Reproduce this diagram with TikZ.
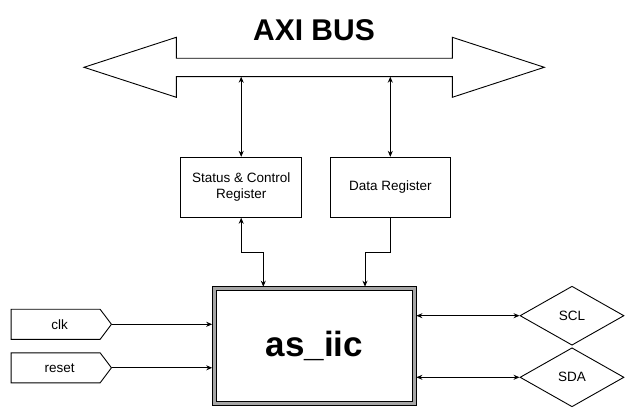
\documentclass[tikz,border=0pt]{standalone}
\usepackage{fontspec}
\setmainfont{Liberation Sans}
\usetikzlibrary{shapes.geometric,shapes.symbols,arrows.meta}
\begin{document}
\begin{tikzpicture}[x=1pt,y=-1pt,line width=0.9pt,
  >={Stealth[length=6pt,width=5pt]},
  lbl/.style={font=\fontsize{13.5}{16}\selectfont},
  regbox/.style={draw,minimum height=60pt,inner sep=0pt,align=center,lbl},
  sigbox/.style={draw,signal,signal to=east,signal pointer angle=106,minimum width=100.3pt,minimum height=30pt,inner sep=0pt,anchor=west,lbl},
  pinbox/.style={draw,diamond,minimum width=104pt,minimum height=59pt,inner sep=0pt,lbl}]
\useasboundingbox (0,0) rectangle (634,419);
% bus
\draw (84,67.3) -- (176.3,37.3) -- (176.3,58.3) -- (452.3,58.3) -- (452.3,37.3)
  -- (544.3,67.3) -- (452.3,97.3) -- (452.3,76.7) -- (176.3,76.7) -- (176.3,97.3) -- cycle;
\coordinate (busA) at (241.2,76.7);
\coordinate (busB) at (390.3,76.7);
\node[font=\bfseries\fontsize{30}{34}\selectfont] (title) at (314,29.7) {AXI BUS};
% registers
\node[regbox,minimum width=121pt] (status) at (241.2,187.3) {Status \& Control\\Register};
\node[regbox,minimum width=119.3pt] (data) at (390.3,187.3) {Data Register};
% main block
\node[draw,fill=gray!70,minimum width=203.3pt,minimum height=119pt,inner sep=0pt] (main) at (314.3,346.2) {};
\node[draw,fill=white,minimum width=195.6pt,minimum height=111.3pt,inner sep=0pt,font=\bfseries\fontsize{35}{40}\selectfont] (core) at (main.center) {as\_iic};
% inputs
\node[sigbox] (clk) at (10.7,324.3) {\hspace{8pt}clk};
\node[sigbox] (reset) at (10.7,367.8) {\hspace{8pt}reset};
% pins
\node[pinbox] (scl) at (572,315.7) {SCL};
\node[pinbox] (sda) at (572,377.3) {SDA};
% connectors
\draw[<->] (status.north) -- (busA);
\draw[<->] (data.north) -- (busB);
\coordinate (mA) at (263.3,286.7);
\coordinate (mB) at (365,286.7);
\draw[<->] (status.south) -- (status.south |- 0,252.7) -| (mA);
\draw[->] (data.south) -- (data.south |- 0,252.7) -| (mB);
\draw[->] (clk.east) -- (clk.east -| main.west);
\draw[->] (reset.east) -- (reset.east -| main.west);
\draw[<->] (scl.west -| main.east) -- (scl.west);
\draw[<->] (sda.west -| main.east) -- (sda.west);
\end{tikzpicture}
\end{document}
